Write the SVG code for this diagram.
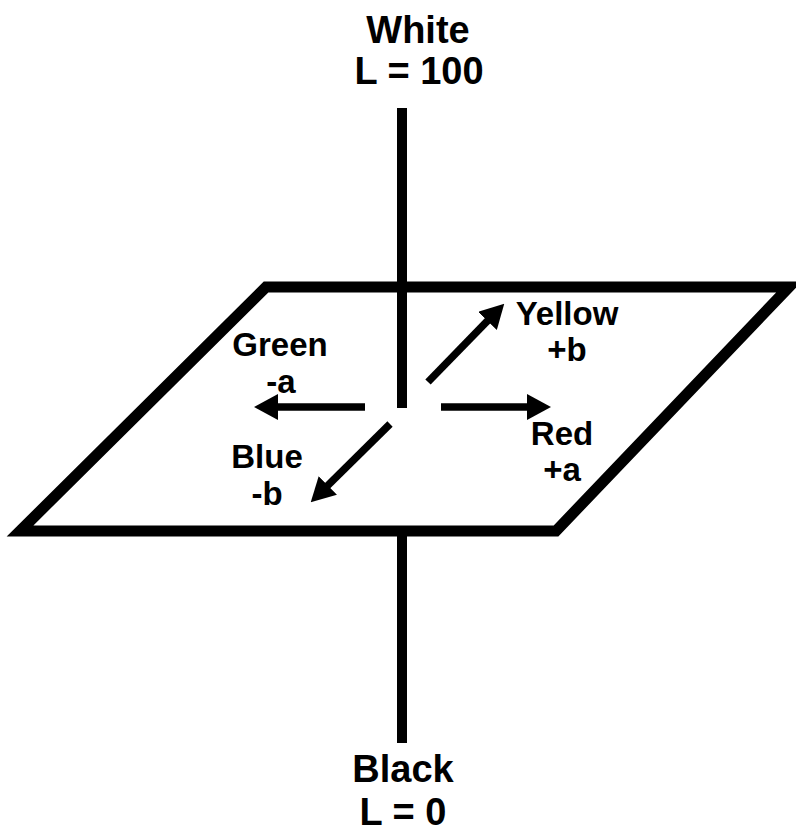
<svg xmlns="http://www.w3.org/2000/svg" width="796" height="832" viewBox="0 0 796 832">
<style>
  .big{font-family:"Liberation Sans",Arial,sans-serif;font-weight:bold;font-size:38px;fill:#000;text-anchor:middle}
  .lbl{font-family:"Liberation Sans",Arial,sans-serif;font-weight:bold;font-size:33px;fill:#000;text-anchor:middle}
  .axis{stroke:#000;stroke-width:10;fill:none}
  .arr{stroke:#000;stroke-width:7.5;fill:none}
</style>
<defs>
  <marker id="head" viewBox="0 0 24 26" markerWidth="24" markerHeight="26" markerUnits="userSpaceOnUse" refX="1" refY="13" orient="auto">
    <path d="M0,0 L24,13 L0,26 z" fill="#000"/>
  </marker>
</defs>
<rect width="796" height="832" fill="#fff"/>
<g id="plane">
  <path d="M266,287 L789,287 L556,531 L20,531 Z" fill="none" stroke="#000" stroke-width="11" stroke-linejoin="miter"/>
</g>
<g id="connectors">
  <line class="axis" x1="402" y1="108" x2="402" y2="408"/>
  <line class="axis" x1="402" y1="531" x2="402" y2="743"/>
  <line class="arr" x1="365" y1="407" x2="277" y2="407" marker-end="url(#head)"/>
  <line class="arr" x1="441" y1="407" x2="528" y2="407" marker-end="url(#head)"/>
  <line class="arr" x1="428" y1="382" x2="488.2" y2="320.2" marker-end="url(#head)"/>
  <line class="arr" x1="390" y1="424" x2="327.1" y2="486.1" marker-end="url(#head)"/>
</g>
<g id="white">
  <text class="big" x="418" y="43">White</text>
  <text class="big" x="419" y="84">L = 100</text>
</g>
<g id="black">
  <text class="big" x="403" y="782">Black</text>
  <text class="big" x="403" y="825">L = 0</text>
</g>
<g id="green">
  <text class="lbl" x="280" y="356">Green</text>
  <text class="lbl" x="281" y="393">-a</text>
</g>
<g id="yellow">
  <text class="lbl" x="567" y="325">Yellow</text>
  <text class="lbl" x="567" y="361">+b</text>
</g>
<g id="red">
  <text class="lbl" x="562" y="445">Red</text>
  <text class="lbl" x="562" y="481">+a</text>
</g>
<g id="blue">
  <text class="lbl" x="267" y="468">Blue</text>
  <text class="lbl" x="267" y="505">-b</text>
</g>
</svg>
